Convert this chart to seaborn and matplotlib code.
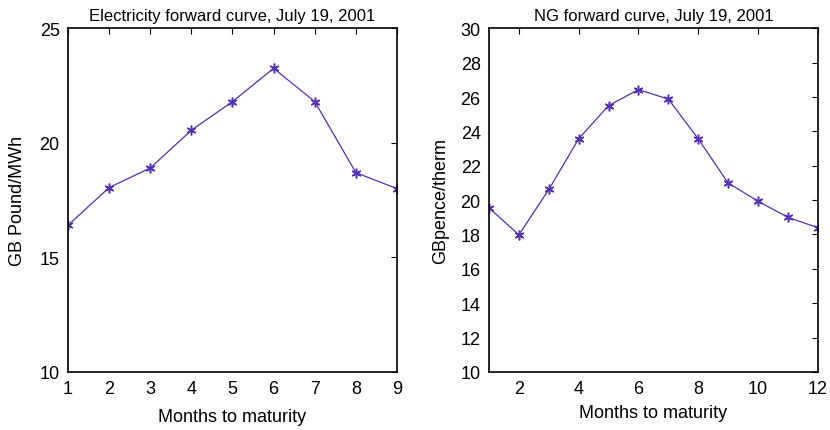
import matplotlib
matplotlib.use("Agg")
import matplotlib.pyplot as plt
import seaborn as sns
import pandas as pd

sns.set_theme(style="white")
plt.rcParams["font.family"] = ["Liberation Sans", "DejaVu Sans"]
plt.rcParams["text.color"] = "black"
plt.rcParams["axes.labelcolor"] = "black"

# Electricity forward curve (GB Pound/MWh)
elec_months = [1, 2, 3, 4, 5, 6, 7, 8, 9]
elec_prices = [16.4, 18.05, 18.9, 20.55, 21.8, 23.25, 21.8, 18.7, 18.0]

# Natural gas forward curve (GBpence/therm)
gas_months = [1, 2, 3, 4, 5, 6, 7, 8, 9, 10, 11, 12]
gas_prices = [19.55, 17.98, 20.62, 23.57, 25.5, 26.43, 25.88, 23.57, 21.0, 19.94, 19.0, 18.4]

elec_df = pd.DataFrame({"month": elec_months, "price": elec_prices})
gas_df = pd.DataFrame({"month": gas_months, "price": gas_prices})

line_color = "#5530b0"
asterisk = (6, 2, 0)

fig = plt.figure(figsize=(8.30, 4.31), dpi=100)
ax1 = fig.add_axes([0.0819, 0.1346, 0.3964, 0.7975])
ax2 = fig.add_axes([0.5892, 0.1346, 0.3960, 0.7975])


def style_axes(ax):
    for side in ax.spines.values():
        side.set_visible(True)
        side.set_color("black")
        side.set_linewidth(1.2)
    ax.tick_params(direction="in", top=True, right=True, length=4, width=0.8,
                   labelsize=13, colors="black", labelcolor="black", pad=6)
    ax.grid(False)


sns.lineplot(data=elec_df, x="month", y="price", ax=ax1, color=line_color,
             linewidth=0.9, marker=asterisk, markersize=7, markeredgewidth=1.1,
             markeredgecolor=line_color)
ax1.set_xlim(1, 9)
ax1.set_ylim(10, 25)
ax1.set_xticks(range(1, 10))
ax1.set_yticks([10, 15, 20, 25])
ax1.set_xlabel("Months to maturity", fontsize=13, labelpad=8)
ax1.set_ylabel("GB Pound/MWh", fontsize=13, labelpad=10)
ax1.set_title("Electricity forward curve, July 19, 2001", fontsize=12, pad=6)
style_axes(ax1)

sns.lineplot(data=gas_df, x="month", y="price", ax=ax2, color=line_color,
             linewidth=0.9, marker=asterisk, markersize=7, markeredgewidth=1.1,
             markeredgecolor=line_color)
ax2.set_xlim(1, 12)
ax2.set_ylim(10, 30)
ax2.set_xticks(range(2, 13, 2))
ax2.set_yticks(range(10, 31, 2))
ax2.set_xlabel("Months to maturity", fontsize=13, labelpad=5)
ax2.set_ylabel("GBpence/therm", fontsize=13, labelpad=8)
ax2.set_title("NG forward curve, July 19, 2001", fontsize=12, pad=6)
style_axes(ax2)

fig.savefig("out.png", dpi=100, facecolor="white")
